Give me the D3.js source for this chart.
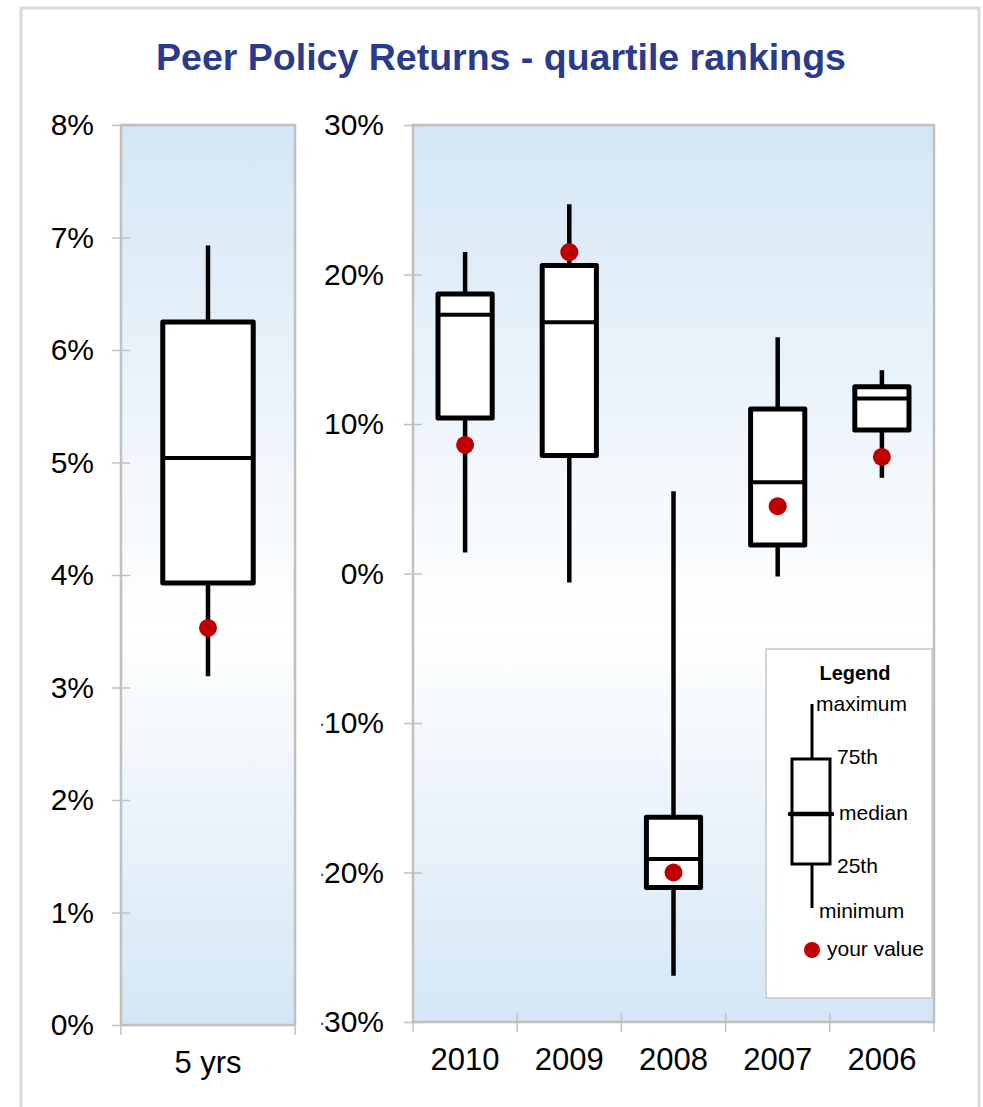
<!DOCTYPE html>
<html>
<head>
<meta charset="utf-8">
<script src="https://cdn.jsdelivr.net/npm/d3@7"></script>
<style>
  body { margin: 0; background: #fff; }
  text { font-family: "Liberation Sans", Arial, sans-serif; }
</style>
</head>
<body>
<script>
//peer returns (percent)
var fiveYrCats = ["5 yrs"];
var fiveYrMin = [3.10], fiveYrQ1 = [3.93], fiveYrMed = [5.04], fiveYrQ3 = [6.25], fiveYrMax = [6.93], fiveYrYours = [3.53];

var years = ["2010", "2009", "2008", "2007", "2006"];
var yrMax = [21.5, 24.7, 5.5, 15.8, 13.6];
var yrQ3 = [18.7, 20.6, -16.3, 11.0, 12.5];
var yrMed = [17.3, 16.8, -19.1, 6.1, 11.7];
var yrQ1 = [10.4, 7.9, -21.0, 1.9, 9.6];
var yrMin = [1.4, -0.6, -26.9, -0.2, 6.4];
var yrYours = [8.6, 21.5, -20.0, 4.5, 7.8];

var leftTicks = [0, 1, 2, 3, 4, 5, 6, 7, 8];
var rightTicks = [-30, -20, -10, 0, 10, 20, 30];

(function () {
    var width = 983, height = 1107;

    var svg = d3.select("body").append("svg")
        .attr("width", width)
        .attr("height", height);

    var defs = svg.append("defs");
    var grad = defs.append("linearGradient")
        .attr("id", "plotGrad")
        .attr("x1", 0).attr("y1", 0).attr("x2", 0).attr("y2", 1);
    grad.append("stop").attr("offset", "0%").attr("stop-color", "#d4e6f5");
    grad.append("stop").attr("offset", "56%").attr("stop-color", "#ffffff");
    grad.append("stop").attr("offset", "100%").attr("stop-color", "#d4e6f5");

    //the minus signs of the right axis labels are cut off in the original
    defs.append("clipPath").attr("id", "labelClip")
        .append("rect").attr("x", 321.5).attr("y", 0).attr("width", 200).attr("height", height);

    //outer frame
    svg.append("rect")
        .attr("x", 21).attr("y", 8)
        .attr("width", 958).attr("height", 1130)
        .attr("fill", "#fff")
        .attr("stroke", "#d9d9d9")
        .attr("stroke-width", 3);

    svg.append("text")
        .attr("x", 501).attr("y", 70)
        .attr("text-anchor", "middle")
        .attr("font-size", 37.5)
        .attr("font-weight", "bold")
        .attr("fill", "#2b3b8b")
        .text("Peer Policy Returns - quartile rankings");

    function pct(d) { return d + "%"; }

    function drawPanel(cfg) {
        var x = d3.scaleBand().domain(cfg.cats).range([cfg.x0, cfg.x1]);
        var y = d3.scaleLinear().domain(cfg.domain).range([cfg.y1, cfg.y0]);

        var g = svg.append("g");

        g.append("rect")
            .attr("x", cfg.x0).attr("y", cfg.y0)
            .attr("width", cfg.x1 - cfg.x0).attr("height", cfg.y1 - cfg.y0)
            .attr("fill", "url(#plotGrad)")
            .attr("stroke", "#c0c0c0")
            .attr("stroke-width", 2.5);

        //y axis with ticks crossing the frame
        var yWrap = g.append("g");
        if (cfg.clip) yWrap.attr("clip-path", "url(#labelClip)");
        var yAxis = yWrap.append("g")
            .attr("transform", "translate(" + cfg.x0 + ",0)")
            .call(d3.axisLeft(y).tickValues(cfg.ticks).tickFormat(pct).tickSize(9).tickPadding(cfg.pad));
        yAxis.select(".domain").remove();
        yAxis.selectAll(".tick line").attr("x1", 9).attr("stroke", "#c0c0c0").attr("stroke-width", 1.5);
        yAxis.selectAll(".tick text")
            .attr("font-size", 30)
            .attr("font-family", "Liberation Sans, Arial, sans-serif")
            .attr("fill", "#000");

        //x axis
        var xAxis = g.append("g")
            .attr("transform", "translate(0," + cfg.y1 + ")")
            .call(d3.axisBottom(x).tickSize(0).tickPadding(26));
        xAxis.select(".domain").remove();
        xAxis.selectAll(".tick text")
            .attr("font-size", 31)
            .attr("font-family", "Liberation Sans, Arial, sans-serif")
            .attr("fill", "#000");
        var edges = x.domain().map(function (d) { return x(d); }).concat([cfg.x1]);
        g.selectAll(".xtick").data(edges).enter().append("line")
            .attr("x1", function (d) { return d; }).attr("x2", function (d) { return d; })
            .attr("y1", cfg.y1 - 9).attr("y2", cfg.y1 + 10)
            .attr("stroke", "#c0c0c0").attr("stroke-width", 1.5);

        //boxes
        var bw = x.bandwidth() * 0.52;
        var rows = cfg.cats.map(function (c, i) {
            return { cat: c, min: cfg.min[i], q1: cfg.q1[i], med: cfg.med[i], q3: cfg.q3[i], max: cfg.max[i], you: cfg.you[i] };
        });
        var box = g.selectAll(".box").data(rows).enter().append("g").attr("class", "box");
        var cx = function (d) { return x(d.cat) + x.bandwidth() / 2; };

        box.append("line")
            .attr("x1", cx).attr("x2", cx)
            .attr("y1", function (d) { return y(d.max); })
            .attr("y2", function (d) { return y(d.min); })
            .attr("stroke", "#000").attr("stroke-width", 4.5);
        box.append("rect")
            .attr("x", function (d) { return cx(d) - bw / 2; })
            .attr("y", function (d) { return y(d.q3); })
            .attr("width", bw)
            .attr("height", function (d) { return y(d.q1) - y(d.q3); })
            .attr("fill", "#fff").attr("stroke", "#000").attr("stroke-width", 5)
            .attr("stroke-linejoin", "round");
        box.append("line")
            .attr("x1", function (d) { return cx(d) - bw / 2; })
            .attr("x2", function (d) { return cx(d) + bw / 2; })
            .attr("y1", function (d) { return y(d.med); })
            .attr("y2", function (d) { return y(d.med); })
            .attr("stroke", "#000").attr("stroke-width", 4);
        box.append("circle")
            .attr("cx", cx)
            .attr("cy", function (d) { return y(d.you); })
            .attr("r", 9)
            .attr("fill", "#c00000");
    }

    drawPanel({
        cats: fiveYrCats, domain: [0, 8], ticks: leftTicks,
        x0: 121, x1: 295, y0: 125, y1: 1025, pad: 18,
        min: fiveYrMin, q1: fiveYrQ1, med: fiveYrMed, q3: fiveYrQ3, max: fiveYrMax, you: fiveYrYours
    });

    drawPanel({
        cats: years, domain: [-30, 30], ticks: rightTicks,
        x0: 413, x1: 934, y0: 125, y1: 1022, pad: 20, clip: true,
        min: yrMin, q1: yrQ1, med: yrMed, q3: yrQ3, max: yrMax, you: yrYours
    });

    //legend
    var lg = svg.append("g").attr("transform", "translate(766,649)");
    lg.append("rect")
        .attr("width", 166).attr("height", 349)
        .attr("fill", "#fff").attr("stroke", "#c8c8c8").attr("stroke-width", 1.5);
    lg.append("text")
        .attr("x", 89).attr("y", 31)
        .attr("text-anchor", "middle")
        .attr("font-size", 20).attr("font-weight", "bold")
        .text("Legend");
    lg.append("line").attr("x1", 46).attr("x2", 46).attr("y1", 55).attr("y2", 259)
        .attr("stroke", "#000").attr("stroke-width", 3);
    lg.append("rect").attr("x", 26).attr("y", 110).attr("width", 38).attr("height", 105)
        .attr("fill", "#fff").attr("stroke", "#000").attr("stroke-width", 3);
    lg.append("line").attr("x1", 24).attr("x2", 66).attr("y1", 165).attr("y2", 165)
        .attr("stroke", "#000").attr("stroke-width", 4.5).attr("stroke-linecap", "round");
    var legLabels = [
        { t: "maximum", x: 50, y: 62 },
        { t: "75th", x: 71, y: 115 },
        { t: "median", x: 73, y: 171 },
        { t: "25th", x: 71, y: 224 },
        { t: "minimum", x: 53, y: 269 },
        { t: "your value", x: 61, y: 307 }
    ];
    lg.selectAll(".lbl").data(legLabels).enter().append("text")
        .attr("x", function (d) { return d.x; })
        .attr("y", function (d) { return d.y; })
        .attr("font-size", 21)
        .text(function (d) { return d.t; });
    lg.append("circle").attr("cx", 46).attr("cy", 301).attr("r", 8).attr("fill", "#c00000");
})();
</script>
</body>
</html>
